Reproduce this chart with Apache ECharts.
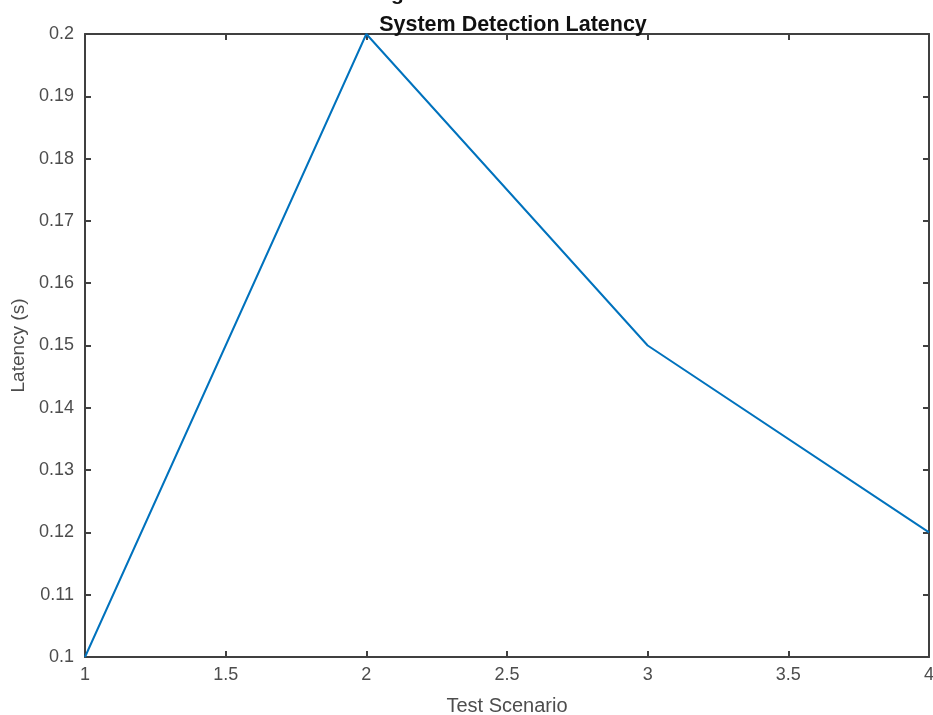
<!DOCTYPE html>
<html>
<head>
<meta charset="utf-8">
<script src="https://cdn.jsdelivr.net/npm/echarts@6/dist/echarts.min.js"></script>
<style>
  html, body { margin: 0; padding: 0; background: #fff; overflow: hidden; }
  #chart { width: 933px; height: 715px; }
</style>
</head>
<body>
<div id="chart"></div>
<script>
// test scenarios and measured latency
const scenarios = [1, 2, 3, 4];
const latency = [0.10, 0.20, 0.15, 0.12];

const axisColor = "#404040";
const labelColor = "#4d4d4d";
const font = "Helvetica, Arial, 'Liberation Sans', sans-serif";

const chart = echarts.init(document.getElementById("chart"));

const boxAxis = {
  axisLine: { show: true, onZero: false, lineStyle: { color: axisColor, width: 2 } },
  axisTick: { show: true, inside: true, length: 6, lineStyle: { color: axisColor, width: 2 } },
  splitLine: { show: false },
};

const option = {
  animation: false,
  title: {
    text: "System Detection Latency",
    left: 508,
    textAlign: "center",
    top: 9,
    textStyle: { fontFamily: font, fontSize: 21.5, fontWeight: "bold", color: "#111" },
  },
  // cut-off text above the title
  graphic: [
    {
      type: "text", left: 391, top: -16,
      style: { text: "g", font: "bold 21px " + font, fill: "#111" },
    },
  ],
  grid: { left: 85, right: 4, top: 34, bottom: 58, outerBoundsMode: "none", containLabel: false },
  xAxis: [
    {
      type: "value",
      min: 1, max: 4, interval: 0.5,
      name: "Test Scenario",
      nameLocation: "middle",
      nameGap: 39,
      nameTextStyle: { fontFamily: font, fontSize: 20, color: labelColor },
      axisLabel: { fontFamily: font, fontSize: 18, color: labelColor, margin: 9 },
      ...boxAxis,
    },
    {
      type: "value", position: "top",
      min: 1, max: 4, interval: 0.5,
      axisLabel: { show: false },
      ...boxAxis,
    },
  ],
  yAxis: [
    {
      type: "value",
      min: 0.1, max: 0.2, interval: 0.01,
      name: "Latency (s)",
      nameLocation: "middle",
      nameGap: 57,
      nameTextStyle: { fontFamily: font, fontSize: 19, color: labelColor },
      axisLabel: {
        fontFamily: font, fontSize: 18, color: labelColor, margin: 11,
        formatter: (v) => String(parseFloat(v.toFixed(2))),
      },
      ...boxAxis,
    },
    {
      type: "value", position: "right",
      min: 0.1, max: 0.2, interval: 0.01,
      axisLabel: { show: false },
      ...boxAxis,
    },
  ],
  series: [
    {
      type: "line",
      data: scenarios.map((x, i) => [x, latency[i]]),
      showSymbol: false,
      symbol: "none",
      lineStyle: { color: "#0072BD", width: 2 },
      clip: false,
    },
  ],
};

chart.setOption(option);
</script>
</body>
</html>
